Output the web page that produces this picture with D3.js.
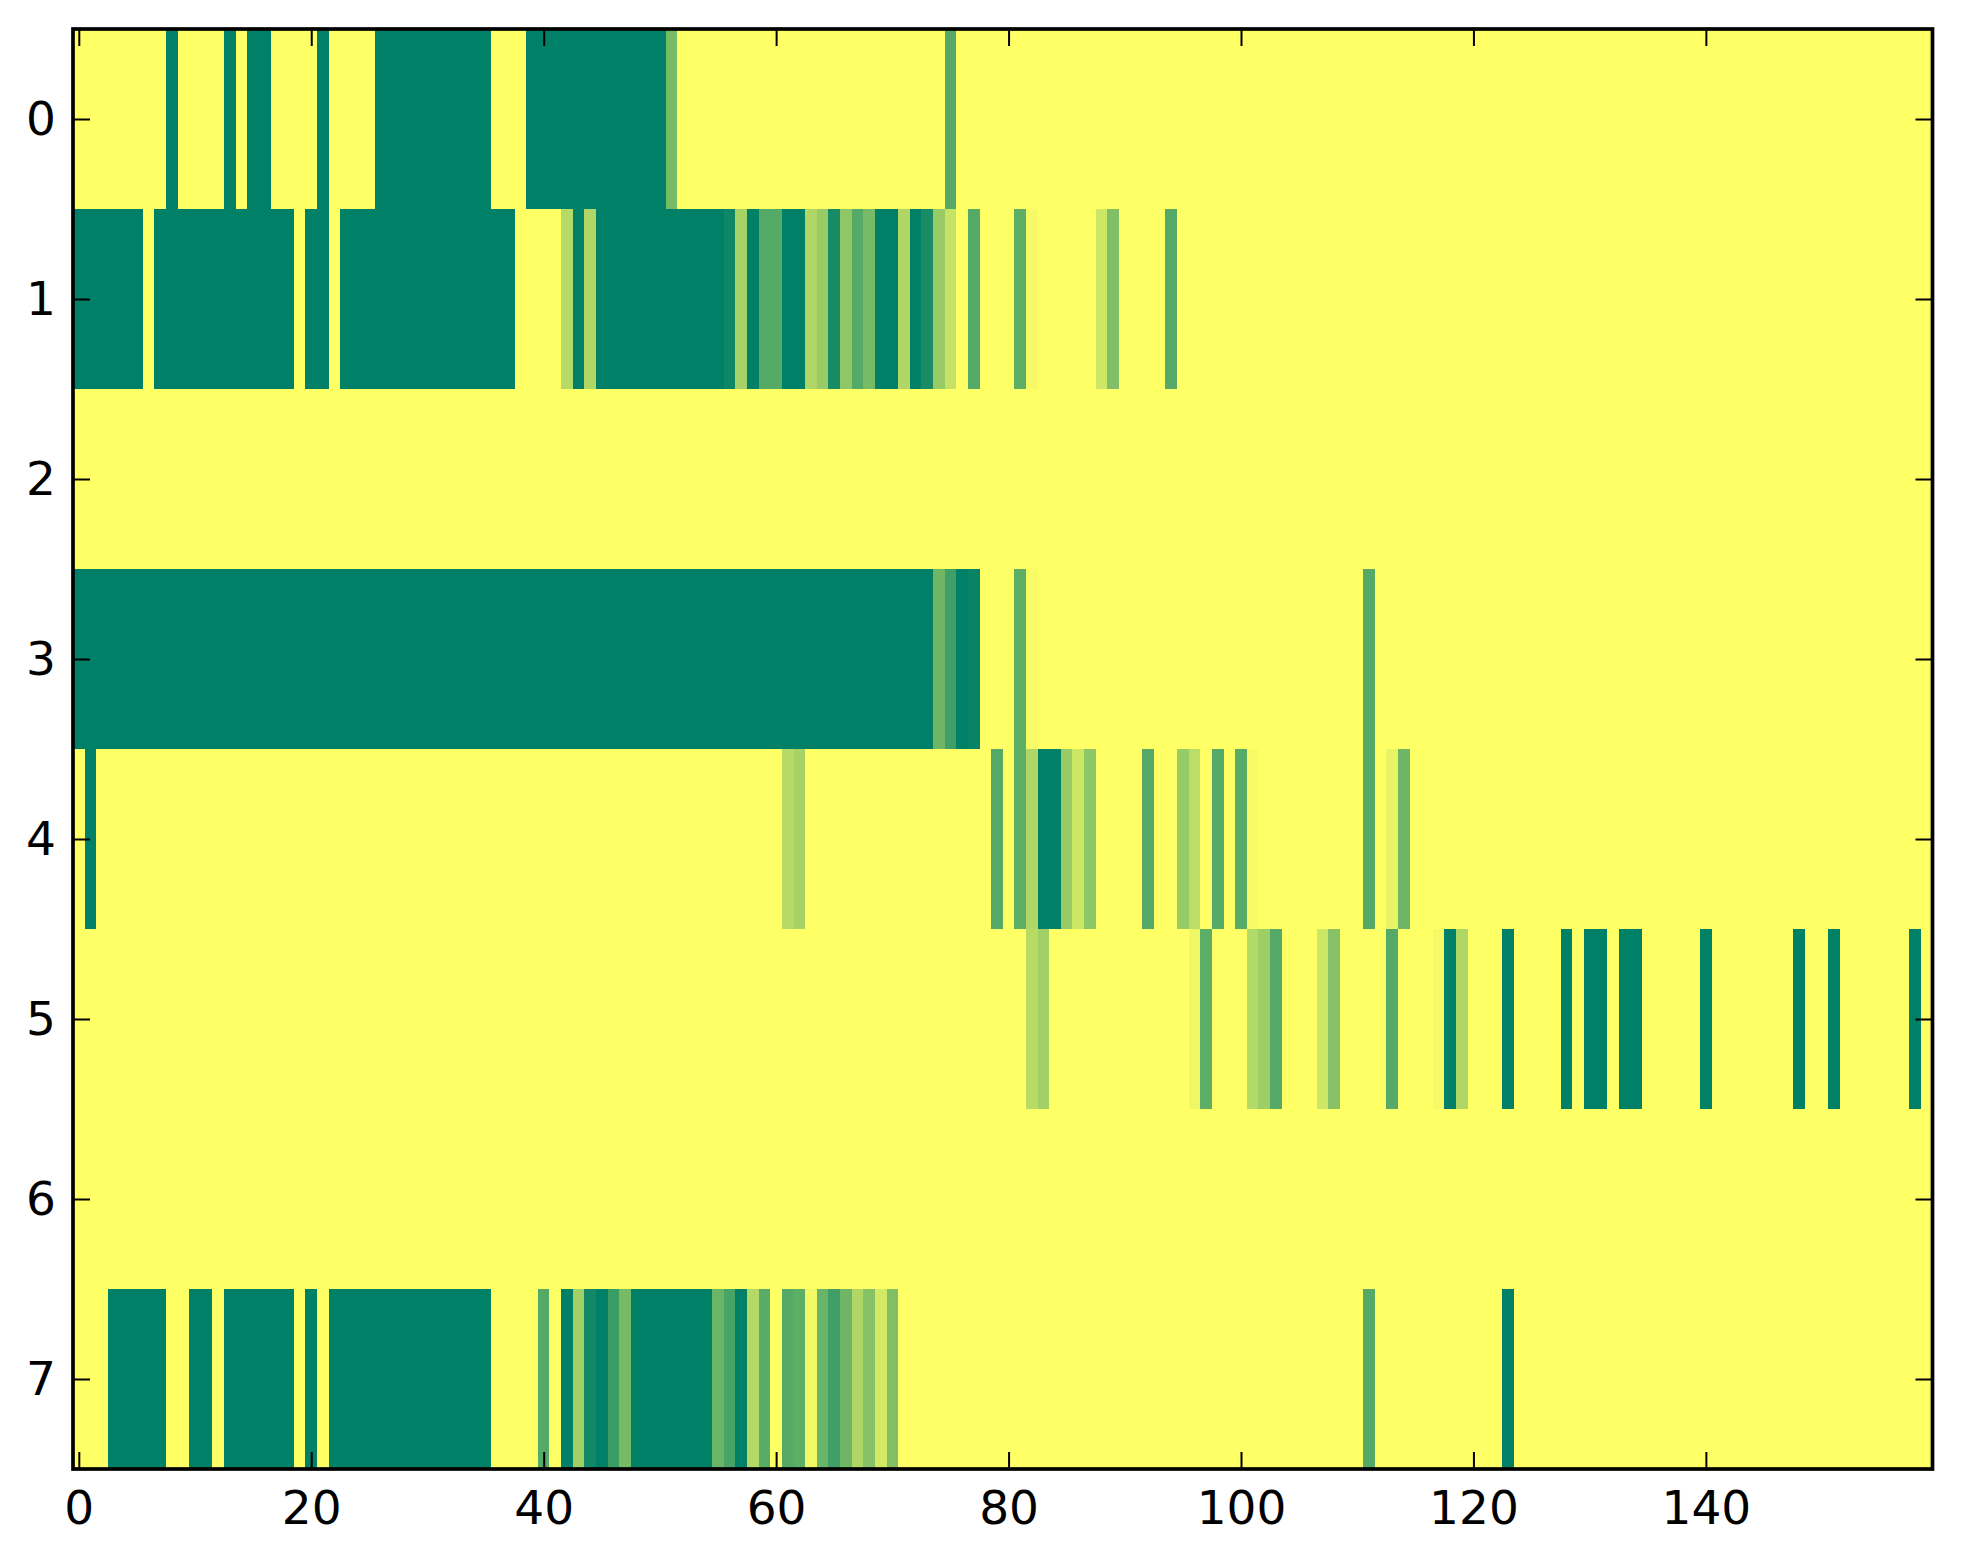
<!DOCTYPE html>
<html>
<head>
<meta charset="utf-8">
<script src="https://cdn.jsdelivr.net/npm/d3@7"></script>
<style>
  body { margin: 0; background: #fff; }
  svg { display: block; }
</style>
</head>
<body>
<div class="heatmap"></div>
<script>
// row labels (y) and x tick labels
const rowLabels = [0, 1, 2, 3, 4, 5, 6, 7];
const xTicks = [0, 20, 40, 60, 80, 100, 120, 140];
const nCols = 160;

// one array of 160 cell values per row, 20 values per line
const row0 = [
  0,0,0,0,0,0,0,0,1,0,0,0,0,1,0,1,1,0,0,0,
  0,1,0,0,0,0,1,1,1,1,1,1,1,1,1,1,0,0,0,1,
  1,1,1,1,1,1,1,1,1,1,1,0.53,0,0,0,0,0,0,0,0,
  0,0,0,0,0,0,0,0,0,0,0,0,0,0,0,0.67,0,0,0,0,
  0,0,0,0,0,0,0,0,0,0,0,0,0,0,0,0,0,0,0,0,
  0,0,0,0,0,0,0,0,0,0,0,0,0,0,0,0,0,0,0,0,
  0,0,0,0,0,0,0,0,0,0,0,0,0,0,0,0,0,0,0,0,
  0,0,0,0,0,0,0,0,0,0,0,0,0,0,0,0,0,0,0,0
];
const row1 = [
  1,1,1,1,1,1,0,1,1,1,1,1,1,1,1,1,1,1,1,0,
  1,1,0,1,1,1,1,1,1,1,1,1,1,1,1,1,1,1,0,0,
  0,0,0.29,1,0.31,1,1,1,1,1,1,1,1,1,1,1,0.94,0.35,1,0.67,
  0.67,1,1,0.31,0.41,0.91,0.44,0.67,0.53,1,1,0.31,1,0.9,0.41,0.23,0,0.67,0,0,
  0,0.63,0.04,0,0,0,0,0,0.2,0.5,0,0,0,0,0.67,0,0,0,0,0,
  0,0,0,0,0,0,0,0,0,0,0,0,0,0,0,0,0,0,0,0,
  0,0,0,0,0,0,0,0,0,0,0,0,0,0,0,0,0,0,0,0,
  0,0,0,0,0,0,0,0,0,0,0,0,0,0,0,0,0,0,0,0
];
const row2 = [
  0,0,0,0,0,0,0,0,0,0,0,0,0,0,0,0,0,0,0,0,
  0,0,0,0,0,0,0,0,0,0,0,0,0,0,0,0,0,0,0,0,
  0,0,0,0,0,0,0,0,0,0,0,0,0,0,0,0,0,0,0,0,
  0,0,0,0,0,0,0,0,0,0,0,0,0,0,0,0,0,0,0,0,
  0,0,0,0,0,0,0,0,0,0,0,0,0,0,0,0,0,0,0,0,
  0,0,0,0,0,0,0,0,0,0,0,0,0,0,0,0,0,0,0,0,
  0,0,0,0,0,0,0,0,0,0,0,0,0,0,0,0,0,0,0,0,
  0,0,0,0,0,0,0,0,0,0,0,0,0,0,0,0,0,0,0,0
];
const row3 = [
  1,1,1,1,1,1,1,1,1,1,1,1,1,1,1,1,1,1,1,1,
  1,1,1,1,1,1,1,1,1,1,1,1,1,1,1,1,1,1,1,1,
  1,1,1,1,1,1,1,1,1,1,1,1,1,1,1,1,1,1,1,1,
  1,1,1,1,1,1,1,1,1,1,1,1,1,1,0.57,0.75,1,0.97,0,0,
  0,0.63,0.03,0,0,0,0,0,0,0,0,0,0,0,0,0,0,0,0,0,
  0,0,0,0,0,0,0,0,0,0,0,0.67,0,0,0,0,0,0,0,0,
  0,0,0,0,0,0,0,0,0,0,0,0,0,0,0,0,0,0,0,0,
  0,0,0,0,0,0,0,0,0,0,0,0,0,0,0,0,0,0,0,0
];
const row4 = [
  0,1,0,0,0,0,0,0,0,0,0,0,0,0,0,0,0,0,0,0,
  0,0,0,0,0,0,0,0,0,0,0,0,0,0,0,0,0,0,0,0,
  0,0,0,0,0,0,0,0,0,0,0,0,0,0,0,0,0,0,0,0,
  0,0.29,0.35,0,0,0,0,0,0,0,0,0,0,0,0,0,0,0,0,0.67,
  0,0.63,0.31,1,1,0.41,0.2,0.45,0,0,0,0,0.67,0,0,0.41,0.26,0,0.67,0,
  0.66,0.03,0,0,0,0,0,0,0,0,0,0.67,0,0.09,0.57,0,0,0,0,0,
  0,0,0,0,0,0,0,0,0,0,0,0,0,0,0,0,0,0,0,0,
  0,0,0,0,0,0,0,0,0,0,0,0,0,0,0,0,0,0,0,0
];
const row5 = [
  0,0,0,0,0,0,0,0,0,0,0,0,0,0,0,0,0,0,0,0,
  0,0,0,0,0,0,0,0,0,0,0,0,0,0,0,0,0,0,0,0,
  0,0,0,0,0,0,0,0,0,0,0,0,0,0,0,0,0,0,0,0,
  0,0,0,0,0,0,0,0,0,0,0,0,0,0,0,0,0,0,0,0,
  0,0,0.28,0.37,0,0,0,0,0,0,0,0,0,0,0,0,0.06,0.63,0,0,
  0,0.3,0.38,0.67,0,0,0,0.2,0.47,0,0,0,0,0.67,0,0,0,0.04,1,0.31,
  0,0,0,1,0,0,0,0,1,0,1,1,0,1,1,0,0,0,0,0,
  1,0,0,0,0,0,0,0,1,0,0,1,0,0,0,0,0,0,1,0
];
const row6 = [
  0,0,0,0,0,0,0,0,0,0,0,0,0,0,0,0,0,0,0,0,
  0,0,0,0,0,0,0,0,0,0,0,0,0,0,0,0,0,0,0,0,
  0,0,0,0,0,0,0,0,0,0,0,0,0,0,0,0,0,0,0,0,
  0,0,0,0,0,0,0,0,0,0,0,0,0,0,0,0,0,0,0,0,
  0,0,0,0,0,0,0,0,0,0,0,0,0,0,0,0,0,0,0,0,
  0,0,0,0,0,0,0,0,0,0,0,0,0,0,0,0,0,0,0,0,
  0,0,0,0,0,0,0,0,0,0,0,0,0,0,0,0,0,0,0,0,
  0,0,0,0,0,0,0,0,0,0,0,0,0,0,0,0,0,0,0,0
];
const row7 = [
  0,0,0,1,1,1,1,1,0,0,1,1,0,1,1,1,1,1,1,0,
  1,0,1,1,1,1,1,1,1,1,1,1,1,1,1,1,0,0,0,0,
  0.67,0,1,0.37,0.93,1,0.77,0.53,1,1,1,1,1,1,1,0.58,0.72,1,0.3,0.65,
  0,0.67,0.63,0.05,0.59,0.75,0.57,0.31,0.47,0.17,0.5,0,0,0,0,0,0,0,0,0,
  0,0,0,0,0,0,0,0,0,0,0,0,0,0,0,0,0,0,0,0,
  0,0,0,0,0,0,0,0,0,0,0,0.67,0,0,0,0,0,0,0,0,
  0,0,0,1,0,0,0,0,0,0,0,0,0,0,0,0,0,0,0,0,
  0,0,0,0,0,0,0,0,0,0,0,0,0,0,0,0,0,0,0,0
];

const rows = [row0, row1, row2, row3, row4, row5, row6, row7];

function drawHeatmap() {
    const width = 1963;
    const height = 1564;
    const plot = { left: 73, right: 1932.5, top: 29, bottom: 1469 };

    const cells = [];
    rows.forEach((vals, r) => {
        vals.forEach((v, c) => cells.push({ row: r, col: c, value: v }));
    });

    const xBand = d3.scaleBand()
        .domain(d3.range(nCols))
        .range([plot.left, plot.right]);
    const yBand = d3.scaleBand()
        .domain(rowLabels)
        .range([plot.top, plot.bottom]);

    // axes are centred on the cells, like imshow
    const xScale = d3.scaleLinear()
        .domain([-0.5, nCols - 0.5])
        .range([plot.left, plot.right]);
    const yScale = d3.scaleLinear()
        .domain([-0.5, rowLabels.length - 0.5])
        .range([plot.top, plot.bottom]);

    // summer_r: 0 -> yellow, 1 -> green
    const color = d3.scaleSequential(t => d3.rgb(255 * (1 - t), 255 * (1 - 0.5 * t), 102).toString())
        .domain([0, 1]);

    const svg = d3.select(".heatmap")
        .append("svg")
        .attr("width", width)
        .attr("height", height);

    svg.append("g")
        .selectAll("rect")
        .data(cells)
        .enter()
        .append("rect")
        .attr("x", d => xBand(d.col))
        .attr("y", d => yBand(d.row))
        .attr("width", xBand.bandwidth() + 0.5)
        .attr("height", yBand.bandwidth() + 0.5)
        .attr("fill", d => color(d.value))
        .attr("shape-rendering", "crispEdges");

    const tickLen = 17;
    const font = "'DejaVu Sans', sans-serif";

    function styleAxis(g) {
        g.select(".domain").remove();
        g.selectAll(".tick line").attr("stroke", "#000").attr("stroke-width", 2);
        g.selectAll(".tick text")
            .attr("fill", "#000")
            .style("font-family", font)
            .style("font-size", "47px");
    }

    svg.append("g")
        .attr("transform", `translate(0,${plot.bottom})`)
        .call(d3.axisBottom(xScale).tickValues(xTicks).tickSize(-tickLen).tickPadding(22))
        .call(styleAxis);

    svg.append("g")
        .attr("transform", `translate(0,${plot.top})`)
        .call(d3.axisTop(xScale).tickValues(xTicks).tickSize(-tickLen).tickFormat(""))
        .call(styleAxis);

    svg.append("g")
        .attr("transform", `translate(${plot.left},0)`)
        .call(d3.axisLeft(yScale).tickValues(rowLabels).tickSize(-tickLen).tickPadding(17))
        .call(styleAxis);

    svg.append("g")
        .attr("transform", `translate(${plot.right},0)`)
        .call(d3.axisRight(yScale).tickValues(rowLabels).tickSize(-tickLen).tickFormat(""))
        .call(styleAxis);

    // frame
    svg.append("rect")
        .attr("x", plot.left)
        .attr("y", plot.top)
        .attr("width", plot.right - plot.left)
        .attr("height", plot.bottom - plot.top)
        .attr("fill", "none")
        .attr("stroke", "#000")
        .attr("stroke-width", 3.7);
}

drawHeatmap();
</script>
</body>
</html>
